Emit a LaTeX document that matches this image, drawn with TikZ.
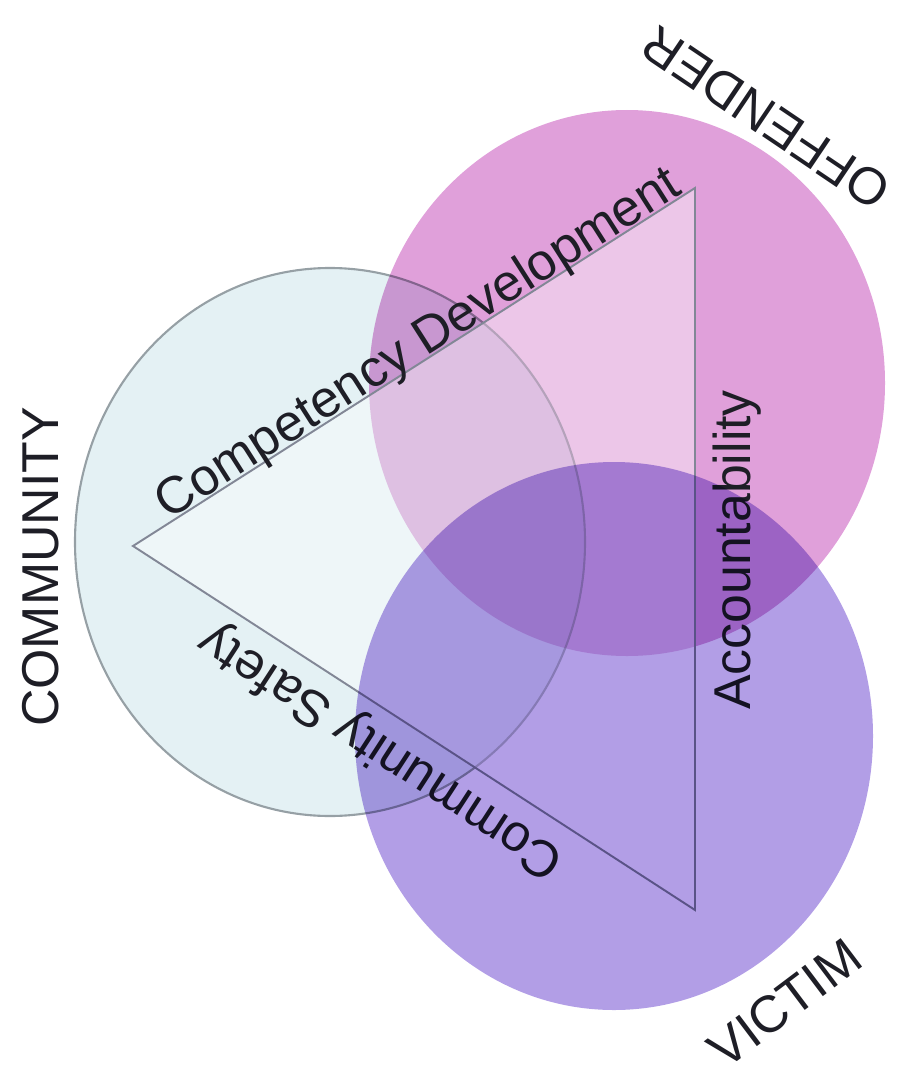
\documentclass[tikz,border=0pt]{standalone}
\usepackage{fontspec}
\setmainfont{Liberation Sans}
\definecolor{commfill}{RGB}{228,241,244}
\definecolor{commline}{RGB}{150,160,165}
\definecolor{offfill}{RGB}{224,160,218}
\definecolor{vicfill}{RGB}{178,158,230}
\definecolor{triline}{RGB}{130,135,150}
\definecolor{txt}{RGB}{30,30,38}
\begin{document}
\begin{tikzpicture}[x=0.02cm,y=-0.02cm,
  lbl/.style={text=txt,inner sep=0pt,font=\fontsize{29.5}{32}\selectfont},
  mult/.style={blend mode=multiply}]
\useasboundingbox (0,0) rectangle (898,1078);
% community circle
\fill[commfill] (330,542) ellipse [x radius=255, y radius=274];
\draw[commline,line width=1.2pt] (330,542) ellipse [x radius=255, y radius=274];
% offender circle
\begin{scope}[mult]
\fill[offfill] (627,383) ellipse [x radius=258, y radius=273];
\end{scope}
% triangle
\coordinate (L) at (133,546);
\coordinate (T) at (695,188);
\coordinate (B) at (695,910);
\fill[white,fill opacity=0.4] (L) -- (T) -- (B) -- cycle;
\draw[triline,line width=1.1pt,line join=miter] (L) -- (T) -- (B) -- cycle;
% labels
\node[lbl,rotate=32.5] (cd) at (419,345) {Competency Development};
\node[lbl,rotate=90] (acc) at (737,550) {Accountability};
\node[lbl,rotate=147] (cs) at (382,750) {Community Safety};
\node[lbl,rotate=90] (comm) at (41,567) {COMMUNITY};
\node[lbl,rotate=146] (off) at (766,118) {OFFENDER};
\node[lbl,rotate=37] (vic) at (785,1003) {VICTIM};
% victim circle
\begin{scope}[mult]
\fill[vicfill] (614,736) ellipse [x radius=259, y radius=274];
\end{scope}
\end{tikzpicture}
\end{document}
